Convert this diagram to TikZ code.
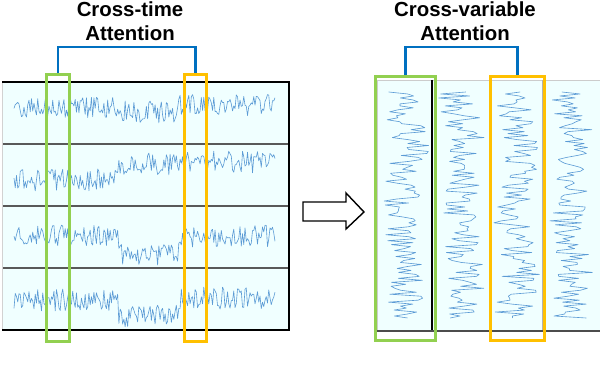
\documentclass[tikz,border=0pt]{standalone}
\usepackage{fontspec}
\setmainfont{Liberation Serif}
\newfontfamily\titlefont{Liberation Sans}
\usetikzlibrary{positioning,fit,calc}

\definecolor{attgreen}{HTML}{92D050}
\definecolor{attorange}{HTML}{FFC000}
\definecolor{attblue}{HTML}{0070C0}
\definecolor{panelcyan}{HTML}{F0FFFF}
\definecolor{seriesblue}{HTML}{5B9BD5}

\begin{document}
\begin{tikzpicture}[x=0.02cm, y=-0.02cm,
    series/.style={seriesblue, line width=0.35pt, line join=round},
    greenbox/.style={draw=attgreen, line width=1.7pt, inner sep=0pt},
    orangebox/.style={draw=attorange, line width=1.7pt, inner sep=0pt},
    bracket/.style={draw=attblue, line width=1.2pt},
    title/.style={font=\titlefont\bfseries\fontsize{11.6}{13.6}\selectfont, align=center, inner sep=0pt},
    caption/.style={font=\fontsize{15.8}{18}\selectfont, inner sep=0pt}]
    \useasboundingbox (0,0) rectangle (600,378);
    \pgfmathsetseed{11}
    % cross-time panel
    \fill[panelcyan] (2,82) rectangle (289,330);
    \foreach \c/\a/\b/\d [count=\r] in {108/0/4/-3, 172/8/-8/-10, 236/0/18/0, 300/0/16/-2}{
        \draw[series] plot[domain=14:275, samples=210, variable=\t]
            (\t, {\c + ((\t<118) ? \a : ((\t<178) ? \b : \d)) + 11*rand});
    }
    \foreach \y in {144,206,268} \draw[gray!70!black, line width=0.6pt] (2,\y) -- (289,\y);
    \draw[gray!35] (2,82) -- (2,330);
    \draw[black, line width=0.8pt] (2,82) -- (289,82) -- (289,330) -- (2,330);
    % cross-variable panel
    \fill[panelcyan] (377,80) rectangle (600,331);
    \foreach \c in {405,462,516,572}{
        \draw[series] plot[domain=92:318, samples=115, variable=\s]
            ({\c + 5*sin(3*\s) + 19*rand}, \s);
    }
    \draw[gray!40] (377,331) -- (377,80) -- (600,80);
    \draw[black, line width=0.6pt] (432,80) -- (432,331);
    \draw[gray!60, line width=0.6pt] (543,80) -- (543,331);
    \draw[gray!60!black, line width=1.2pt] (377,331) -- (600,331);
    % hollow arrow between panels
    \draw[black, fill=white, line width=0.8pt, line join=miter]
        (303,202) -- (346,202) -- (346,193) -- (364,212) -- (346,229) -- (346,221) -- (303,221) -- cycle;
    % attention windows
    \node[greenbox, fit={(46.5,74.5) (69.5,341.5)}] (tgreen) {};
    \node[orangebox, fit={(184.5,74.5) (206.5,341.5)}] (torange) {};
    \node[greenbox, fit={(375.5,76.5) (435.5,340.5)}] (vgreen) {};
    \node[orangebox, fit={(490.5,76.5) (544.5,340.5)}] (vorange) {};
    \draw[bracket] (tgreen.north) -- ++(0,-26) -| (torange.north);
    \draw[bracket] (vgreen.north) -- ++(0,-28) -| (vorange.north);
    \node[title] (ttitle) at (130,21) {Cross-time\\Attention};
    \node[title] (vtitle) at (465,21) {Cross-variable\\Attention};
    \node[caption, anchor=base west] (cap) at (116,400) {Figure 1: Cross-variable attention};
\end{tikzpicture}
\end{document}
